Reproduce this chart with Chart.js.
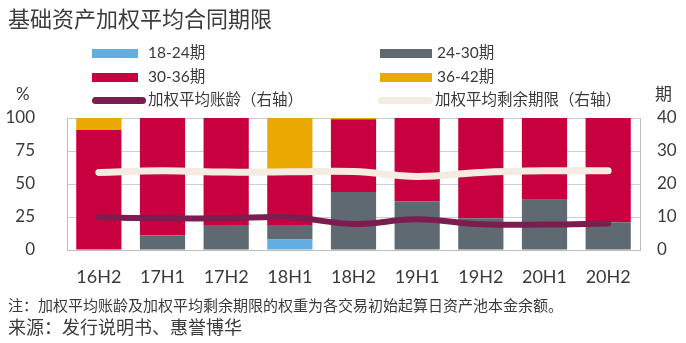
<!DOCTYPE html>
<html>
<head>
<meta charset="utf-8">
<script src="https://cdn.jsdelivr.net/npm/chart.js@4"></script>
<style>
  body { margin: 0; background: #fff; }
  #wrap { position: relative; width: 686px; height: 343px; font-family: Lato, "Noto Sans CJK SC", sans-serif; color: #3a3a3a; }
  #chart { position: absolute; left: 0; top: 0; }
  .txt { position: absolute; white-space: nowrap; line-height: 1; }
  .sw { position: absolute; }
</style>
</head>
<body>
<div id="wrap">
  <canvas id="chart" width="686" height="343"></canvas>
  <div class="txt" style="left:8px;top:6px;font-size:22px;color:#3c3c3c;font-family:'Noto Sans CJK SC';">基础资产加权平均合同期限</div>
  <div class="txt" style="left:16px;top:85px;font-size:17px;">%</div>
  <div class="txt" style="left:655px;top:84px;font-size:17px;font-family:'Noto Sans CJK SC';">期</div>
  <div id="legend"></div>
  <div class="txt" style="left:8px;top:297px;font-size:15px;font-family:'Noto Sans CJK SC';">注：加权平均账龄及加权平均剩余期限的权重为各交易初始起算日资产池本金余额。</div>
  <div class="txt" style="left:8px;top:317px;font-size:18px;font-family:'Noto Sans CJK SC';">来源：发行说明书、惠誉博华</div>
</div>
<script>
"use strict";

const periods = ["16H2", "17H1", "17H2", "18H1", "18H2", "19H1", "19H2", "20H1", "20H2"];
const share18to24 = [0, 0, 0, 8, 0, 0, 0, 0, 0];
const share24to30 = [0, 11, 19, 11, 44, 37, 24, 38, 21];
const share30to36 = [91, 89, 81, 42, 55, 63, 76, 62, 79];
const share36to42 = [9, 0, 0, 39, 1, 0, 0, 0, 0];
const avgAge = [9.9, 9.6, 9.6, 9.9, 7.9, 9.3, 7.8, 7.7, 8.0];
const avgRemaining = [23.5, 24.0, 23.6, 23.7, 23.8, 22.3, 23.5, 24.0, 24.0];

const leftTicks = [0, 25, 50, 75, 100];
const rightTicks = [0, 10, 20, 30, 40];

const COLORS = {
  blue: "#62aee1",
  gray: "#5e6971",
  crimson: "#c8003f",
  gold: "#e9a900",
  purple: "#7b1d4f",
  cream: "#f4ece0"
};

function barSet(label, data, color) {
  return {
    type: "bar",
    label,
    data,
    backgroundColor: color,
    borderWidth: 0,
    stack: "share",
    yAxisID: "y",
    order: 2,
    barPercentage: 1,
    categoryPercentage: 0.71
  };
}

function lineSet(label, data, color, width) {
  return {
    type: "line",
    label,
    data,
    borderColor: color,
    backgroundColor: color,
    borderWidth: width,
    borderCapStyle: "round",
    pointRadius: 0,
    tension: 0.4,
    yAxisID: "y2",
    order: 0
  };
}

const datasets = [
  barSet("18-24期", share18to24, COLORS.blue),
  barSet("24-30期", share24to30, COLORS.gray),
  barSet("30-36期", share30to36, COLORS.crimson),
  barSet("36-42期", share36to42, COLORS.gold),
  lineSet("加权平均账龄（右轴）", avgAge, COLORS.purple, 6),
  lineSet("加权平均剩余期限（右轴）", avgRemaining, COLORS.cream, 7)
];

// legend: two columns, three rows
const legendPos = [
  { x: 92, y: 53, w: 46 }, { x: 380, y: 53, w: 52 },
  { x: 92, y: 77, w: 46 }, { x: 380, y: 77, w: 52 },
  { x: 92, y: 100, w: 54 }, { x: 378, y: 100, w: 55 }
];
const legendEl = document.getElementById("legend");
datasets.forEach((ds, i) => {
  const p = legendPos[i];
  const sw = document.createElement("div");
  sw.className = "sw";
  const isLine = ds.type === "line";
  const h = isLine ? 7 : 9;
  sw.style.cssText = `left:${p.x}px;top:${p.y - h / 2}px;width:${p.w}px;height:${h}px;background:${ds.backgroundColor};border-radius:${isLine ? 4 : 0}px;`;
  legendEl.appendChild(sw);
  const t = document.createElement("div");
  t.className = "txt";
  t.style.cssText = `left:${p.x + (i % 2 ? 57 : 56)}px;top:${p.y - 8}px;font-size:15.5px;`;
  t.textContent = ds.label;
  legendEl.appendChild(t);
});

const tickFont = { family: "Lato", size: 17 };

new Chart(document.getElementById("chart"), {
  type: "bar",
  data: { labels: periods, datasets },
  options: {
    responsive: false,
    animation: false,
    layout: { padding: { top: 118, left: 0, right: 0, bottom: 0 } },
    plugins: { legend: { display: false }, tooltip: { enabled: false } },
    scales: {
      x: {
        stacked: true,
        grid: { display: false, drawTicks: false },
        border: { color: "#bdbdbd" },
        ticks: { color: "#3a3a3a", font: { family: "Lato", size: 18 }, padding: 16 },
        afterFit: (s) => { s.height = 93; }
      },
      y: {
        position: "left",
        stacked: true,
        min: 0,
        max: 100,
        afterBuildTicks: (s) => { s.ticks = leftTicks.map((v) => ({ value: v })); },
        grid: { color: "#cfcfcf", drawTicks: false },
        border: { color: "#bdbdbd" },
        ticks: { color: "#3a3a3a", font: tickFont, padding: 32 },
        afterFit: (s) => { s.width = 67; }
      },
      y2: {
        position: "right",
        min: 0,
        max: 40,
        afterBuildTicks: (s) => { s.ticks = rightTicks.map((v) => ({ value: v })); },
        grid: { display: false, drawTicks: false },
        border: { color: "#bdbdbd" },
        ticks: { color: "#3a3a3a", font: tickFont, padding: 17 },
        afterFit: (s) => { s.width = 46; }
      }
    }
  }
});
</script>
</body>
</html>
